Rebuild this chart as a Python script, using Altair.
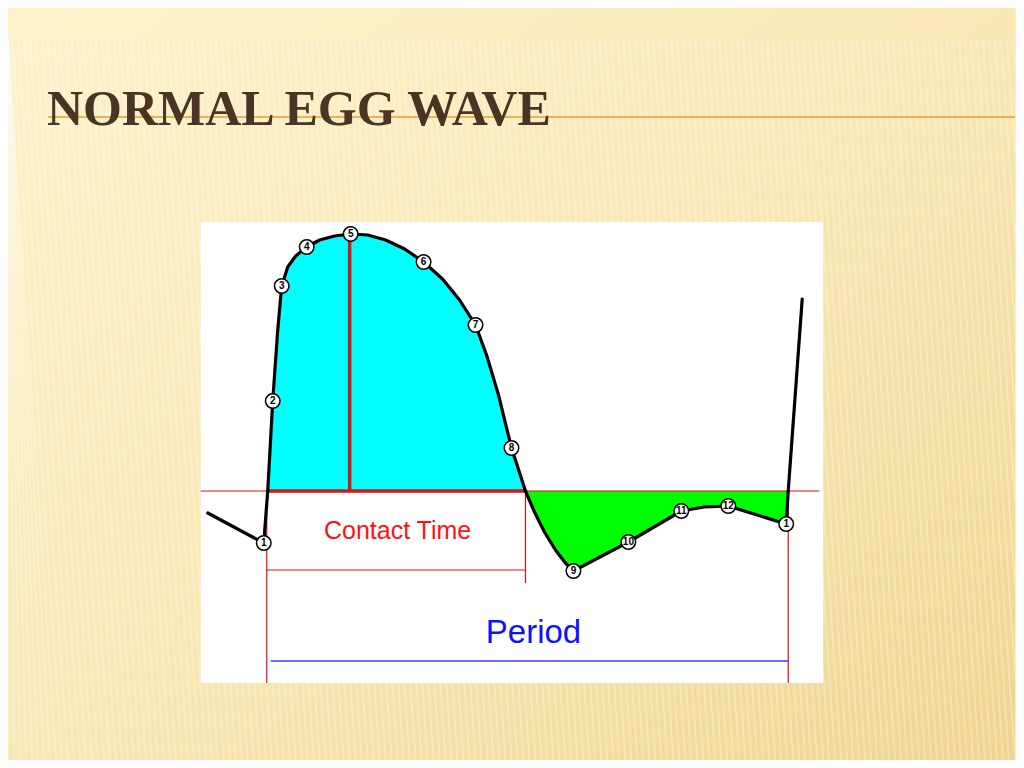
import altair as alt
import pandas as pd

# ---- data (x = time position, y = screen-style amplitude, baseline at 491) ----
BASELINE = 491

wave_x = [208, 264, 268, 273, 278, 282, 288, 296, 307, 320, 335, 351, 368, 386, 405, 424,
          443, 460, 476, 487, 499, 512, 526, 535, 545, 556, 566, 574, 629, 682, 705, 729,
          787, 789, 803]
wave_y = [513, 543, 491, 401, 330, 286, 267, 256, 247, 240, 236, 234, 235, 240, 249, 262,
          279, 300, 325, 355, 395, 448, 491, 512, 532, 550, 563, 571, 542, 511, 507, 506,
          524, 491, 299]

marker_x = [264, 273, 282, 307, 351, 424, 476, 512, 574, 629, 682, 729, 787]
marker_y = [543, 401, 286, 247, 234, 262, 325, 448, 571, 542, 511, 506, 524]
marker_lbl = ["1", "2", "3", "4", "5", "6", "7", "8", "9", "10", "11", "12", "1"]

contact_start, contact_end, period_end = 267, 526, 789
peak_x, peak_top = 350, 240

# reference lines: x, x2, y, y2, colour, width
line_x = [201, contact_start, peak_x, contact_start, contact_end, contact_start, period_end, 271]
line_x2 = [820, contact_end, peak_x, contact_start, contact_end, contact_end, period_end, period_end]
line_y = [BASELINE, BASELINE, peak_top, BASELINE, BASELINE, 570, BASELINE, 661]
line_y2 = [BASELINE, BASELINE, BASELINE, 683, 583, 570, 683, 661]
line_col = ["#e01010", "#d01818", "#d01818", "#e01010", "#e01010", "#e01010", "#e01010", "#3a3aff"]
line_w = [1.2, 3.5, 3.5, 1.2, 1.2, 1.2, 1.2, 1.6]

panel = {"x": 201, "x2": 824, "y": 222, "y2": 683}

title_text = "NORMAL EGG WAVE"
contact_label = "Contact Time"
period_label = "Period"

# ---- tables ----
wave = pd.DataFrame({"x": wave_x, "y": wave_y})
cyan = wave[(wave.x >= contact_start) & (wave.x <= contact_end) & (wave.index >= 2)].copy()
green = wave[(wave.x >= contact_end) & (wave.x <= period_end)].copy()
cyan["b"] = BASELINE
green["b"] = BASELINE
markers = pd.DataFrame({"x": marker_x, "y": marker_y, "lbl": marker_lbl})
lines = pd.DataFrame({"x": line_x, "x2": line_x2, "y": line_y, "y2": line_y2,
                      "c": line_col, "w": line_w})
# background texture (decoration only)
stripe_df = pd.DataFrame({"x": list(range(-42, 1016, 6))})
stripe_df["x2"] = (stripe_df["x"] + 50).clip(upper=1016)
stripe_df["y"] = 40
stripe_df["y2"] = 40 + (stripe_df["x2"] - stripe_df["x"]) * 720 / 50
stripe_df["x"] = stripe_df["x"].clip(lower=8)

XS = alt.Scale(domain=[8, 1016], nice=False, zero=False)
YS = alt.Scale(domain=[8, 760], nice=False, zero=False, reverse=True)


def X(f="x"):
    return alt.X(f"{f}:Q", scale=XS, axis=None)


def Y(f="y"):
    return alt.Y(f"{f}:Q", scale=YS, axis=None)


bg = alt.Chart(pd.DataFrame({"x": [8], "x2": [1016], "y": [8], "y2": [760]})).mark_rect(
    color=alt.LinearGradient(
        gradient="linear", x1=0, y1=0, x2=1, y2=1,
        stops=[alt.GradientStop(color="#fdf2cc", offset=0),
               alt.GradientStop(color="#f9e8b4", offset=0.5),
               alt.GradientStop(color="#eed590", offset=1)])
).encode(x=X(), x2="x2:Q", y=Y(), y2="y2:Q")

stripes = alt.Chart(stripe_df).mark_rule(color="#ffffff", strokeWidth=2, opacity=0.28,
                                         clip=True).encode(
    x=X(), x2="x2:Q", y=Y(), y2="y2:Q")

underline = alt.Chart(pd.DataFrame({"x": [48], "x2": [1016], "y": [117]})).mark_rule(
    color="#e8b45a", strokeWidth=2).encode(x=X(), x2="x2:Q", y=Y())

title = alt.Chart(pd.DataFrame({"x": [47], "y": [125], "t": [title_text]})).mark_text(
    align="left", baseline="alphabetic", font="Liberation Serif", fontWeight="bold",
    fontSize=50, color="#4a3423").encode(x=X(), y=Y(), text="t:N")

panel_rect = alt.Chart(pd.DataFrame([panel])).mark_rect(color="#ffffff").encode(
    x=X(), x2="x2:Q", y=Y(), y2="y2:Q")

area_c = alt.Chart(cyan).mark_area(color="#00ffff", opacity=1).encode(
    x=X(), y=Y(), y2="b:Q")
area_g = alt.Chart(green).mark_area(color="#00ff00", opacity=1).encode(
    x=X(), y=Y(), y2="b:Q")

rules = alt.Chart(lines).mark_rule().encode(
    x=X(), x2="x2:Q", y=Y(), y2="y2:Q",
    color=alt.Color("c:N", scale=None),
    strokeWidth=alt.StrokeWidth("w:Q", scale=None))

wave_line = alt.Chart(wave).mark_line(color="#000000", strokeWidth=3.2,
                                      strokeJoin="round", strokeCap="round").encode(
    x=X(), y=Y(), order="x:Q")

pts = alt.Chart(markers).mark_point(shape="circle", filled=True, fill="#ffffff",
                                    stroke="#000000", strokeWidth=1.5, size=210,
                                    opacity=1).encode(x=X(), y=Y())
pt_txt = alt.Chart(markers).mark_text(font="Liberation Sans", fontSize=10, fontWeight="bold",
                                      color="#000000", baseline="middle").encode(
    x=X(), y=Y(), text="lbl:N")

labels = alt.Chart(pd.DataFrame({
    "x": [398, 534],
    "y": [531, 633],
    "t": [contact_label, period_label],
    "c": ["#ff1010", "#1010ff"],
    "s": [25, 33],
})).mark_text(font="Liberation Sans", baseline="middle").encode(
    x=X(), y=Y(), text="t:N",
    color=alt.Color("c:N", scale=None),
    size=alt.Size("s:Q", scale=None))

chart = alt.layer(bg, stripes, underline, title, panel_rect, area_c, area_g, rules,
                  wave_line, pts, pt_txt, labels).properties(
    width=1008, height=752, padding=0,
    autosize=alt.AutoSizeParams(type="fit", contains="padding"),
    background="#fbefc6",
).configure_view(stroke=None)

chart.save("out.html", embed_options={"renderer": "svg", "actions": False})
